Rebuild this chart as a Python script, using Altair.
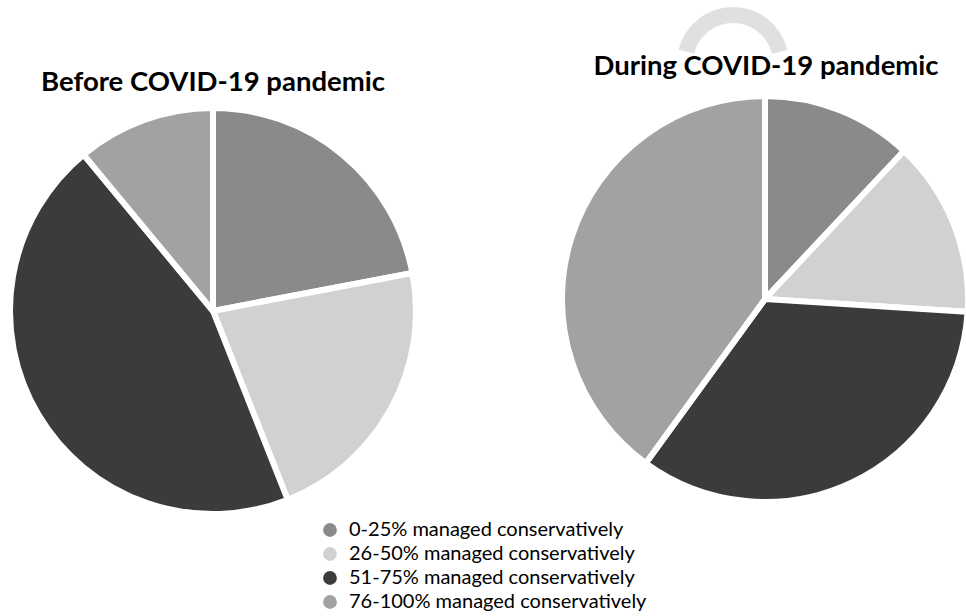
import altair as alt
import pandas as pd

# Share of cases managed conservatively, per surgeon-reported band
categories = [
    "0-25% managed conservatively",
    "26-50% managed conservatively",
    "51-75% managed conservatively",
    "76-100% managed conservatively",
]
before_pct = [22, 22, 45, 11]
during_pct = [12, 14, 34, 40]
periods = ["Before COVID-19 pandemic", "During COVID-19 pandemic"]
greys = ["#8a8a8a", "#d1d1d1", "#3b3b3b", "#a2a2a2"]

rows = []
for period, values in zip(periods, [before_pct, during_pct]):
    for k, (cat, v) in enumerate(zip(categories, values)):
        rows.append({"period": period, "band": cat, "k": k, "pct": v})
df = pd.DataFrame(rows)

color = alt.Color(
    "band:N",
    scale=alt.Scale(domain=categories, range=greys),
    legend=alt.Legend(
        title=None,
        orient="none",
        legendX=320,
        legendY=520,
        symbolType="circle",
        symbolSize=190,
        symbolStrokeWidth=0,
        labelFont="Lato",
        labelFontSize=20,
        labelColor="#000000",
        labelOffset=9,
        rowPadding=4,
        labelLimit=400,
    ),
)


def pie(period, cx, cy):
    return (
        alt.Chart(df)
        .transform_filter(alt.datum.period == period)
        .mark_arc(radius=203, stroke="white", strokeWidth=6)
        .encode(
            theta=alt.Theta("pct:Q", stack=True),
            order=alt.Order("k:Q"),
            color=color,
            x=alt.value(cx),
            y=alt.value(cy),
        )
    )


def heading(text, cx, cy):
    return (
        alt.Chart(pd.DataFrame({"t": [text]}))
        .mark_text(
            font="Lato",
            fontSize=27.5,
            fontWeight="bold",
            color="#000000",
            align="center",
            baseline="alphabetic",
        )
        .encode(text="t:N", x=alt.value(cx), y=alt.value(cy))
    )


# faint ring segment above the right-hand heading
ring = (
    alt.Chart(pd.DataFrame({"a": [0]}))
    .mark_arc(radius=56, radius2=40, color="#e0e0e0", theta=4.95, theta2=7.62)
    .encode(x=alt.value(733), y=alt.value(63))
)

chart = (
    alt.layer(
        ring,
        pie(periods[0], 213, 311),
        pie(periods[1], 765, 299),
        heading(periods[0], 213, 91),
        heading(periods[1], 766, 75),
    )
    .properties(
        width=966,
        height=616,
        autosize=alt.AutoSizeParams(type="none"),
        padding=0,
        background="white",
    )
    .configure_view(stroke=None)
)

chart.save("out.html", embed_options={"renderer": "svg", "actions": False})
